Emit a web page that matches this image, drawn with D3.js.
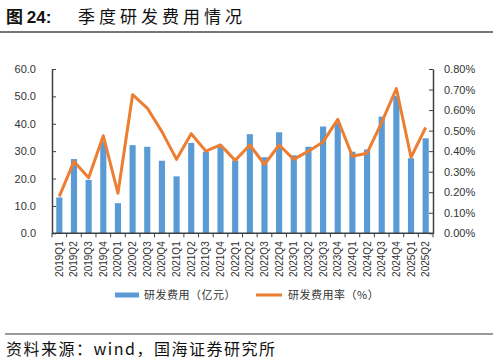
<!DOCTYPE html>
<html>
<meta charset="utf-8">
<head>
<style>
body { margin:0; padding:0; background:#fff; }
svg { display:block; }
text { font-family: "Liberation Sans", Arial, sans-serif; fill:#333; }
.cjk { font-family: "Noto Sans CJK SC", sans-serif; }
.axis path, .axis line { stroke:#404040; }
</style>
</head>
<body>
<svg id="chart"></svg>
<script src="https://cdn.jsdelivr.net/npm/d3@7"></script>
<script>

var quarters = ["2019Q1","2019Q2","2019Q3","2019Q4","2020Q1","2020Q2","2020Q3","2020Q4",
  "2021Q1","2021Q2","2021Q3","2021Q4","2022Q1","2022Q2","2022Q3","2022Q4",
  "2023Q1","2023Q2","2023Q3","2023Q4","2024Q1","2024Q2","2024Q3","2024Q4",
  "2025Q1","2025Q2"];

// 研发费用（亿元）
var rdExpense = [13.1, 27.1, 19.5, 33.4, 11.0, 32.2, 31.6, 26.5,
  20.8, 33.0, 29.8, 31.6, 26.6, 36.2, 27.8, 36.9,
  28.5, 31.6, 39.0, 40.2, 29.8, 30.6, 42.6, 50.2,
  27.4, 34.7];

// 研发费用率（%）
var rdRate = [0.18, 0.35, 0.27, 0.475, 0.195, 0.675, 0.61, 0.495,
  0.36, 0.485, 0.40, 0.43, 0.355, 0.43, 0.335, 0.43,
  0.36, 0.40, 0.445, 0.555, 0.375, 0.39, 0.54, 0.705,
  0.37, 0.515];

var leftTicks = [0, 10, 20, 30, 40, 50, 60];
var rightTicks = [0, 0.1, 0.2, 0.3, 0.4, 0.5, 0.6, 0.7, 0.8];

var width = 498, height = 362;
var svg = d3.select("#chart").attr("width", width).attr("height", height);

var plot = {left: 52, right: 433, top: 69, bottom: 233.3};

var x = d3.scaleBand().domain(quarters).range([plot.left, plot.right]).padding(0);
var y = d3.scaleLinear().domain([0, 60]).range([plot.bottom, plot.top]);
var y2 = d3.scaleLinear().domain([0, 0.8]).range([plot.bottom, plot.top]);

// title
var title = svg.append("text").attr("x", 6).attr("y", 23).style("font-size", "17px");
title.append("tspan").attr("class", "cjk").style("font-weight", "bold").style("fill", "#111").text("图 ");
title.append("tspan").style("font-weight", "bold").style("fill", "#111").text("24:");
svg.append("text").attr("class", "cjk").attr("x", 78).attr("y", 23)
  .style("font-size", "17px").style("letter-spacing", "4px").style("fill", "#111")
  .text("季度研发费用情况");
svg.append("line").attr("x1", 0).attr("x2", 493).attr("y1", 32).attr("y2", 32)
  .style("stroke", "#777").style("stroke-width", 2);

// bars
var bw = x.bandwidth();
svg.append("g").selectAll("rect")
  .data(rdExpense)
  .enter().append("rect")
    .attr("x", function(d, i) { return x(quarters[i]) + bw * 0.29; })
    .attr("y", function(d) { return y(d); })
    .attr("width", bw * 0.42)
    .attr("height", function(d) { return plot.bottom - y(d); })
    .style("fill", "#5B9BD5");

// line
var line = d3.line()
  .x(function(d, i) { return x(quarters[i]) + bw / 2; })
  .y(function(d) { return y2(d); });

svg.append("path")
  .datum(rdRate)
  .attr("d", line)
  .style("fill", "none")
  .style("stroke", "#ED7D31")
  .style("stroke-width", 3)
  .style("stroke-linejoin", "round");

// left axis
var gl = svg.append("g").attr("class", "axis")
  .attr("transform", "translate(" + plot.left + ",0)")
  .call(d3.axisLeft(y).tickValues(leftTicks).tickFormat(d3.format(".1f"))
    .tickSizeInner(-4).tickSizeOuter(0).tickPadding(16));
gl.select(".domain").style("stroke-width", 1.5);
gl.selectAll("text").style("font-size", "11px").style("font-family", "Liberation Sans, Arial, sans-serif").style("fill", "#333");

// right axis
var gr = svg.append("g").attr("class", "axis")
  .attr("transform", "translate(" + plot.right + ",0)")
  .call(d3.axisRight(y2).tickValues(rightTicks).tickFormat(function(d) { return d3.format(".2f")(d) + "%"; })
    .tickSizeInner(-4).tickSizeOuter(0).tickPadding(11));
gr.select(".domain").style("stroke-width", 1.5);
gr.selectAll("text").style("font-size", "11px").style("font-family", "Liberation Sans, Arial, sans-serif").style("fill", "#333");

// bottom axis
var gb = svg.append("g").attr("class", "axis");
gb.append("line").attr("x1", plot.left).attr("x2", plot.right)
  .attr("y1", plot.bottom).attr("y2", plot.bottom)
  .style("stroke-width", 1.5);
gb.selectAll(".tick")
  .data(quarters.concat(["end"]))
  .enter().append("line")
    .attr("x1", function(d) { return d === "end" ? plot.right : x(d); })
    .attr("x2", function(d) { return d === "end" ? plot.right : x(d); })
    .attr("y1", plot.bottom).attr("y2", plot.bottom + 4);
gb.selectAll("text")
  .data(quarters)
  .enter().append("text")
    .attr("transform", function(d) { return "translate(" + (x(d) + bw / 2 + 3.5) + "," + (plot.bottom + 8) + ") rotate(-90)"; })
    .attr("text-anchor", "end")
    .style("font-size", "10px")
    .text(function(d) { return d; });

// legend
var lg = svg.append("g");
lg.append("rect").attr("x", 115).attr("y", 292.5).attr("width", 24).attr("height", 5).style("fill", "#5B9BD5");
lg.append("text").attr("class", "cjk").attr("x", 144).attr("y", 299)
  .style("font-size", "11px").style("letter-spacing", "0.5px").text("研发费用（亿元）");
lg.append("line").attr("x1", 256).attr("x2", 282).attr("y1", 295).attr("y2", 295)
  .style("stroke", "#ED7D31").style("stroke-width", 3);
lg.append("text").attr("class", "cjk").attr("x", 288).attr("y", 299)
  .style("font-size", "11px").style("letter-spacing", "0.5px").text("研发费用率（%）");

// source
svg.append("line").attr("x1", 5).attr("x2", 493).attr("y1", 334).attr("y2", 334)
  .style("stroke", "#333").style("stroke-width", 1);
svg.append("text").attr("class", "cjk").attr("x", 6).attr("y", 355)
  .style("font-size", "16px").style("letter-spacing", "1.5px").style("fill", "#111")
  .text("资料来源：wind，国海证券研究所");

</script>
</body>
</html>
